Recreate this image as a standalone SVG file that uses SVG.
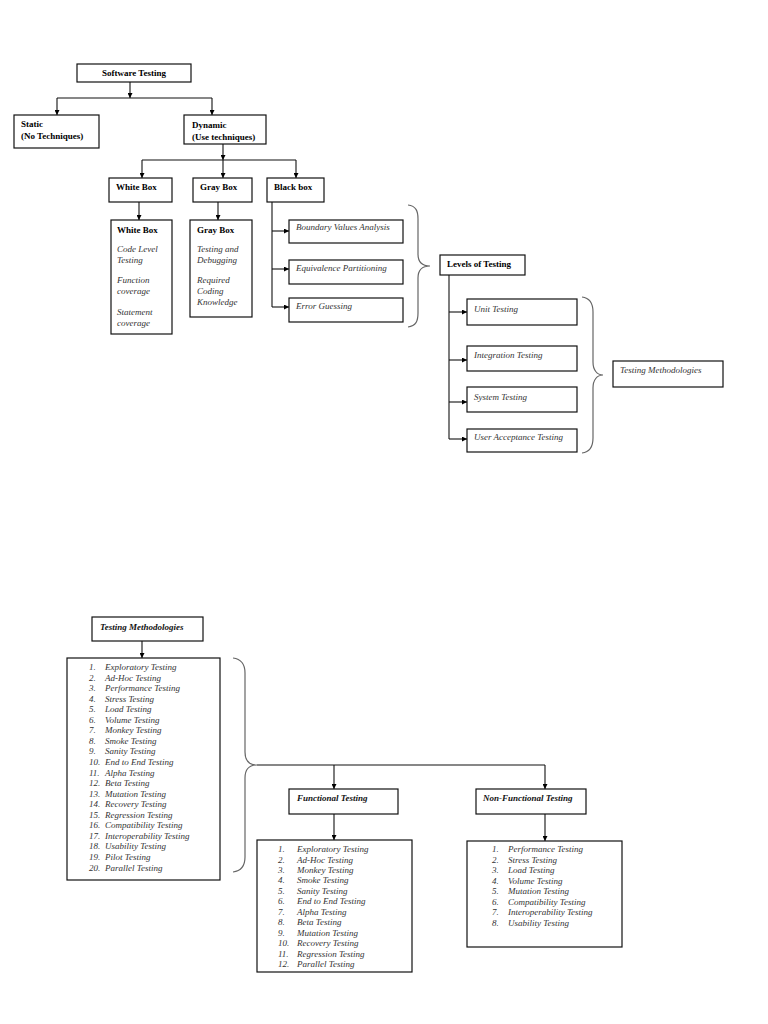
<svg xmlns="http://www.w3.org/2000/svg" width="768" height="1024" viewBox="0 0 768 1024">
<defs>
<marker id="ah" viewBox="0 0 6 6" refX="6" refY="3" markerWidth="5" markerHeight="5" markerUnits="userSpaceOnUse" orient="auto">
<path d="M0,0 L6,3 L0,6 z" fill="#000"/>
</marker>
</defs>
<style>
.box{fill:#fff;stroke:#111;stroke-width:1.2}
.ln{fill:none;stroke:#111;stroke-width:1.1}
.ar{fill:none;stroke:#111;stroke-width:1.1;marker-end:url(#ah)}
.br{fill:none;stroke:#666;stroke-width:1.2}
.b{font-family:"Liberation Serif",serif;font-weight:bold;font-size:9px;fill:#000}
.bi{font-family:"Liberation Serif",serif;font-weight:bold;font-style:italic;font-size:9px;fill:#111}
.i{font-family:"Liberation Serif",serif;font-style:italic;font-size:9px;fill:#333}
</style>
<rect width="768" height="1024" fill="#fff"/>

<g id="connectors">
<path class="ar" d="M130,82 V98"/>
<path class="ln" d="M57,98 H212"/>
<path class="ar" d="M57,98 V115"/>
<path class="ar" d="M212,98 V115"/>
<path class="ar" d="M223,144 V160"/>
<path class="ln" d="M142,160 H296"/>
<path class="ar" d="M142,160 V178"/>
<path class="ar" d="M223,160 V178"/>
<path class="ar" d="M296,160 V178"/>
<path class="ar" d="M139,202 V220"/>
<path class="ar" d="M218,202 V220"/>
<path class="ln" d="M272,202 V307"/>
<path class="ar" d="M272,231 H289"/>
<path class="ar" d="M272,269 H289"/>
<path class="ar" d="M272,307 H289"/>
<path class="ln" d="M449,275 V439"/>
<path class="ar" d="M449,312 H467"/>
<path class="ar" d="M449,360 H467"/>
<path class="ar" d="M449,402 H467"/>
<path class="ar" d="M449,439 H467"/>
<path class="br" d="M408,205 C416,206 418,211 418,219 L418,254 C418,262 422,266 430,266 C422,266 418,270 418,278 L418,313 C418,321 416,326 408,327"/>
<path class="br" d="M582,297 C590,298 593,304 593,312 L593,362 C593,370 597,375 603,375 C597,375 593,380 593,388 L593,438 C593,446 590,452 582,453"/>
<path class="ar" d="M142,641 V658"/>
<path class="br" d="M233,658 C241,659 245,664 245,673 L245,752 C245,760 249,765 257,765 C249,765 245,770 245,778 L245,857 C245,866 241,871 233,872"/>
<path class="ln" d="M257,765 H545"/>
<path class="ar" d="M334,765 V789"/>
<path class="ar" d="M545,765 V789"/>
<path class="ar" d="M334,814 V840"/>
<path class="ar" d="M545,814 V841"/>
</g>

<g id="software-testing">
<rect class="box" x="77" y="64" width="114" height="18"/>
<text class="b" x="134" y="76" text-anchor="middle">Software Testing</text>
</g>
<g id="static">
<rect class="box" x="14" y="115" width="85" height="33"/>
<text class="b" x="21" y="127">Static</text>
<text class="b" x="21" y="139">(No Techniques)</text>
</g>
<g id="dynamic">
<rect class="box" x="184" y="115" width="82" height="29"/>
<text class="b" x="192" y="128">Dynamic</text>
<text class="b" x="192" y="140">(Use techniques)</text>
</g>
<g id="white-box">
<rect class="box" x="109" y="178" width="63" height="24"/>
<text class="b" x="116" y="190">White Box</text>
</g>
<g id="gray-box">
<rect class="box" x="193" y="178" width="59" height="24"/>
<text class="b" x="200" y="190">Gray Box</text>
</g>
<g id="black-box">
<rect class="box" x="267" y="178" width="57" height="24"/>
<text class="b" x="274" y="190">Black box</text>
</g>
<g id="white-box-detail">
<rect class="box" x="111" y="220" width="61" height="114"/>
<text class="b" x="117" y="233">White Box</text>
<text class="i" x="117" y="252">Code Level</text>
<text class="i" x="117" y="263">Testing</text>
<text class="i" x="117" y="283">Function</text>
<text class="i" x="117" y="294">coverage</text>
<text class="i" x="117" y="315">Statement</text>
<text class="i" x="117" y="326">coverage</text>
</g>
<g id="gray-box-detail">
<rect class="box" x="190" y="220" width="62" height="97"/>
<text class="b" x="197" y="233">Gray Box</text>
<text class="i" x="197" y="252">Testing and</text>
<text class="i" x="197" y="263">Debugging</text>
<text class="i" x="197" y="283">Required</text>
<text class="i" x="197" y="294">Coding</text>
<text class="i" x="197" y="305">Knowledge</text>
</g>
<g id="boundary">
<rect class="box" x="289" y="220" width="114" height="23"/>
<text class="i" x="296" y="230">Boundary Values Analysis</text>
</g>
<g id="equivalence">
<rect class="box" x="289" y="260" width="114" height="24"/>
<text class="i" x="296" y="271">Equivalence Partitioning</text>
</g>
<g id="error-guessing">
<rect class="box" x="289" y="298" width="114" height="24"/>
<text class="i" x="296" y="309">Error Guessing</text>
</g>
<g id="levels-of-testing">
<rect class="box" x="440" y="255" width="85" height="20"/>
<text class="b" x="447" y="267">Levels of Testing</text>
</g>
<g id="unit-testing">
<rect class="box" x="467" y="299" width="110" height="26"/>
<text class="i" x="474" y="312">Unit Testing</text>
</g>
<g id="integration-testing">
<rect class="box" x="467" y="346" width="110" height="25"/>
<text class="i" x="474" y="358">Integration Testing</text>
</g>
<g id="system-testing">
<rect class="box" x="467" y="387" width="110" height="25"/>
<text class="i" x="474" y="400">System Testing</text>
</g>
<g id="uat">
<rect class="box" x="467" y="429" width="110" height="23"/>
<text class="i" x="474" y="440">User Acceptance Testing</text>
</g>
<g id="testing-methodologies-top">
<rect class="box" x="613" y="361" width="110" height="26"/>
<text class="i" x="620" y="373">Testing Methodologies</text>
</g>

<g id="testing-methodologies">
<rect class="box" x="92" y="617" width="111" height="24"/>
<text class="bi" x="100" y="630">Testing Methodologies</text>
</g>
<g id="methodologies-list">
<rect class="box" x="67" y="658" width="153" height="222"/>
<g class="i">
<text x="89" y="670">1.</text><text x="105" y="670">Exploratory Testing</text>
<text x="89" y="680.5">2.</text><text x="105" y="680.5">Ad-Hoc Testing</text>
<text x="89" y="691.1">3.</text><text x="105" y="691.1">Performance Testing</text>
<text x="89" y="701.6">4.</text><text x="105" y="701.6">Stress Testing</text>
<text x="89" y="712.2">5.</text><text x="105" y="712.2">Load Testing</text>
<text x="89" y="722.7">6.</text><text x="105" y="722.7">Volume Testing</text>
<text x="89" y="733.3">7.</text><text x="105" y="733.3">Monkey Testing</text>
<text x="89" y="743.8">8.</text><text x="105" y="743.8">Smoke Testing</text>
<text x="89" y="754.4">9.</text><text x="105" y="754.4">Sanity Testing</text>
<text x="89" y="765">10.</text><text x="105" y="765">End to End Testing</text>
<text x="89" y="775.5">11.</text><text x="105" y="775.5">Alpha Testing</text>
<text x="89" y="786">12.</text><text x="105" y="786">Beta Testing</text>
<text x="89" y="796.6">13.</text><text x="105" y="796.6">Mutation Testing</text>
<text x="89" y="807.2">14.</text><text x="105" y="807.2">Recovery Testing</text>
<text x="89" y="817.7">15.</text><text x="105" y="817.7">Regression Testing</text>
<text x="89" y="828.3">16.</text><text x="105" y="828.3">Compatibility Testing</text>
<text x="89" y="838.8">17.</text><text x="105" y="838.8">Interoperability Testing</text>
<text x="89" y="849.4">18.</text><text x="105" y="849.4">Usability Testing</text>
<text x="89" y="860">19.</text><text x="105" y="860">Pilot Testing</text>
<text x="89" y="870.5">20.</text><text x="105" y="870.5">Parallel Testing</text>
</g>
</g>
<g id="functional-testing">
<rect class="box" x="289" y="789" width="109" height="25"/>
<text class="bi" x="297" y="801">Functional Testing</text>
</g>
<g id="non-functional-testing">
<rect class="box" x="476" y="789" width="110" height="25"/>
<text class="bi" x="483" y="801">Non-Functional Testing</text>
</g>
<g id="functional-list">
<rect class="box" x="257" y="840" width="155" height="132"/>
<g class="i">
<text x="278" y="852">1.</text><text x="297" y="852">Exploratory Testing</text>
<text x="278" y="862.5">2.</text><text x="297" y="862.5">Ad-Hoc Testing</text>
<text x="278" y="872.9">3.</text><text x="297" y="872.9">Monkey Testing</text>
<text x="278" y="883.4">4.</text><text x="297" y="883.4">Smoke Testing</text>
<text x="278" y="893.8">5.</text><text x="297" y="893.8">Sanity Testing</text>
<text x="278" y="904.3">6.</text><text x="297" y="904.3">End to End Testing</text>
<text x="278" y="914.7">7.</text><text x="297" y="914.7">Alpha Testing</text>
<text x="278" y="925.2">8.</text><text x="297" y="925.2">Beta Testing</text>
<text x="278" y="935.6">9.</text><text x="297" y="935.6">Mutation Testing</text>
<text x="278" y="946.1">10.</text><text x="297" y="946.1">Recovery Testing</text>
<text x="278" y="956.5">11.</text><text x="297" y="956.5">Regression Testing</text>
<text x="278" y="967">12.</text><text x="297" y="967">Parallel Testing</text>
</g>
</g>
<g id="non-functional-list">
<rect class="box" x="467" y="841" width="155" height="106"/>
<g class="i">
<text x="492" y="852">1.</text><text x="508" y="852">Performance Testing</text>
<text x="492" y="862.6">2.</text><text x="508" y="862.6">Stress Testing</text>
<text x="492" y="873.1">3.</text><text x="508" y="873.1">Load Testing</text>
<text x="492" y="883.7">4.</text><text x="508" y="883.7">Volume Testing</text>
<text x="492" y="894.3">5.</text><text x="508" y="894.3">Mutation Testing</text>
<text x="492" y="904.9">6.</text><text x="508" y="904.9">Compatibility Testing</text>
<text x="492" y="915.4">7.</text><text x="508" y="915.4">Interoperability Testing</text>
<text x="492" y="926">8.</text><text x="508" y="926">Usability Testing</text>
</g>
</g>
</svg>
